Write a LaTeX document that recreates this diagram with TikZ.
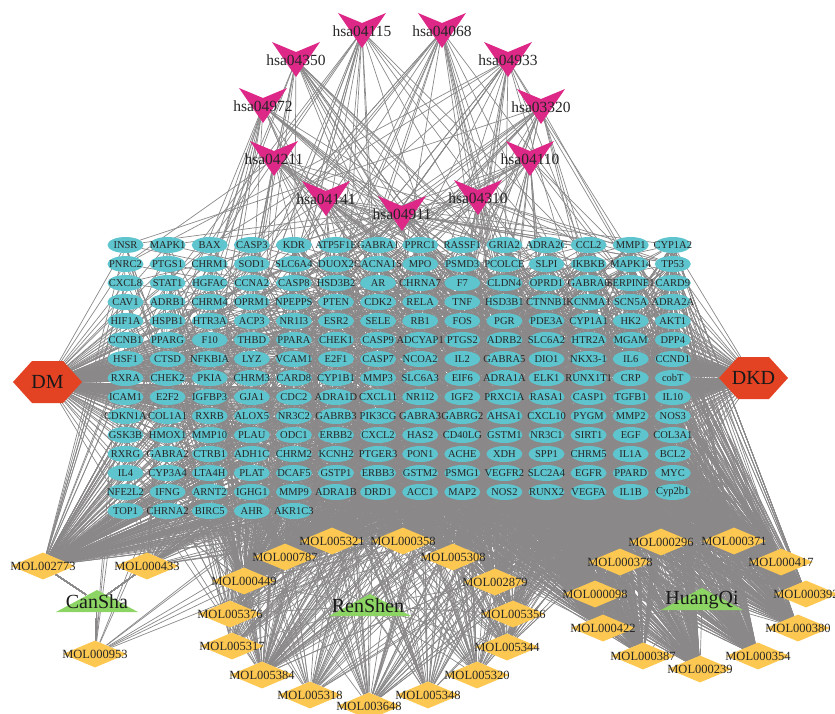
\documentclass[tikz,border=0pt]{standalone}
\usepackage{fontspec}
\setmainfont{Liberation Serif}
\usetikzlibrary{shapes.geometric}
\pgfdeclarelayer{edges}
\pgfsetlayers{edges,main}
\definecolor{genecyan}{RGB}{94,196,206}
\definecolor{hsapink}{RGB}{221,40,136}
\definecolor{dmred}{RGB}{227,66,35}
\definecolor{molyellow}{RGB}{253,200,82}
\definecolor{herbgreen}{RGB}{140,212,100}
\definecolor{edgegray}{RGB}{138,136,136}
\tikzset{
	vee/.pic = {
		\fill[hsapink] (-24,-17) -- (0,-7) -- (24,-17) -- (0,18) -- cycle;
	},
	hexa/.pic = {
		\fill[dmred] (-34.5,0) -- (-15.5,-21) -- (15.5,-21) --
		             (34.5,0) -- (15.5,21) -- (-15.5,21) -- cycle;
	},
	herb/.pic = {
		\fill[herbgreen] (-41,11) -- (41,11) -- (0,-11) -- cycle;
	},
	link/.style = {draw=edgegray, line width=0.7pt},
	gene/.style = {ellipse, fill=genecyan, minimum width=36pt, minimum height=16pt,
		inner sep=0pt, text=black!85, font=\fontsize{10.5}{10.5}\selectfont},
	mol/.style = {diamond, fill=molyellow, minimum width=64pt, minimum height=27pt,
		inner sep=0pt, text=black!85, font=\fontsize{12.5}{12.5}\selectfont},
	pathway/.style = {inner sep=0pt, text=black!85, font=\fontsize{15.5}{15.5}\selectfont},
	bigname/.style = {inner sep=0pt, text=black!90, font=\fontsize{20}{20}\selectfont}
}
% draw #2 links from node #1 to genes picked at random, columns #3..14
\def\linkgenes#1#2#3{%
	\foreach \i in {1,...,#2}{%
		\pgfmathrandominteger{\rowi}{1}{14}%
		\pgfmathrandominteger{\coli}{#3}{14}%
		\draw[link] (#1) -- (g-\rowi-\coli);
	}%
}

\begin{document}
\begin{tikzpicture}[x=1pt, y=-1pt]
	\useasboundingbox (0,0) rectangle (835,713);
	\pgfmathsetseed{4711}

	% target genes
	\foreach [count=\r] \row in {
		{INSR,MAPK1,BAX,CASP3,KDR,ATP5F1E,GABRA1,PPRC1,RASSF1,GRIA2,ADRA2C,CCL2,MMP1,CYP1A2},
		{PNRC2,PTGS1,CHRM1,SOD1,SLC6A4,DUOX2,CACNA1S,MPO,PSMD3,PCOLCE,SLPI,IKBKB,MAPK14,TP53},
		{CXCL8,STAT1,HGFAC,CCNA2,CASP8,HSD3B2,AR,CHRNA7,F7,CLDN4,OPRD1,GABRA6,SERPINE1,CARD9},
		{CAV1,ADRB1,CHRM4,OPRM1,NPEPPS,PTEN,CDK2,RELA,TNF,HSD3B1,CTNNB1,KCNMA1,SCN5A,ADRA2A},
		{HIF1A,HSPB1,HTR3A,ACP3,NR1I3,ESR2,SELE,RB1,FOS,PGR,PDE3A,CYP1A1,HK2,AKT1},
		{CCNB1,PPARG,F10,THBD,PPARA,CHEK1,CASP9,ADCYAP1,PTGS2,ADRB2,SLC6A2,HTR2A,MGAM,DPP4},
		{HSF1,CTSD,NFKBIA,LYZ,VCAM1,E2F1,CASP7,NCOA2,IL2,GABRA5,DIO1,NKX3-1,IL6,CCND1},
		{RXRA,CHEK2,PKIA,CHRM3,CARD8,CYP1B1,MMP3,SLC6A3,EIF6,ADRA1A,ELK1,RUNX1T1,CRP,cobT},
		{ICAM1,E2F2,IGFBP3,GJA1,CDC2,ADRA1D,CXCL11,NR1I2,IGF2,PRXC1A,RASA1,CASP1,TGFB1,IL10},
		{CDKN1A,COL1A1,RXRB,ALOX5,NR3C2,GABRB3,PIK3CG,GABRA3,GABRG2,AHSA1,CXCL10,PYGM,MMP2,NOS3},
		{GSK3B,HMOX1,MMP10,PLAU,ODC1,ERBB2,CXCL2,HAS2,CD40LG,GSTM1,NR3C1,SIRT1,EGF,COL3A1},
		{RXRG,GABRA2,CTRB1,ADH1C,CHRM2,KCNH2,PTGER3,PON1,ACHE,XDH,SPP1,CHRM5,IL1A,BCL2},
		{IL4,CYP3A4,LTA4H,PLAT,DCAF5,GSTP1,ERBB3,GSTM2,PSMG1,VEGFR2,SLC2A4,EGFR,PPARD,MYC},
		{NFE2L2,IFNG,ARNT2,IGHG1,MMP9,ADRA1B,DRD1,ACC1,MAP2,NOS2,RUNX2,VEGFA,IL1B,Cyp2b1},
		{TOP1,CHRNA2,BIRC5,AHR,AKR1C3}}{
		\foreach [count=\c] \g in \row
			\node[gene] (g-\r-\c) at ({125.5+42.1*(\c-1)}, {245+19*(\r-1)}) {\makebox[0pt]{\g}};
	}

	% diseases
	\pic at (47.5,382) {hexa};
	\node[bigname] (DM) at (47.5,382) {DM};
	\pic at (753.5,378) {hexa};
	\node[bigname] (DKD) at (753.5,378) {DKD};

	% KEGG pathways
	\foreach \h/\x/\y in {hsa04115/362/30, hsa04068/442/30, hsa04350/296/59, hsa04933/508/59,
		hsa04972/263/105, hsa03320/541/106, hsa04211/274/158, hsa04110/530/158,
		hsa04141/326/198, hsa04310/478/197, hsa04911/402/213}
	{
		\pic at (\x,\y) {vee};
		\node[pathway] (\h) at (\x,\y+1) {\makebox[0pt]{\h}};
	}

	% herbs
	\pic at (97,601) {herb};
	\node[bigname] (CanSha) at (97,602) {CanSha};
	\pic at (370,605) {herb};
	\node[bigname] (RenShen) at (368,606) {RenShen};
	\pic at (702,599) {herb};
	\node[bigname] (HuangQi) at (702,600) {HuangQi};

	% compounds
	\foreach \m/\x/\y in {MOL002773/43/566, MOL000433/147/566, MOL000953/95/654,
		MOL000787/285/557, MOL005321/332/541, MOL000358/403/541, MOL005308/453/557,
		MOL000449/244/581, MOL002879/495/582, MOL005376/230/614, MOL005356/513/614,
		MOL005317/232/646, MOL005344/507/647, MOL005384/262/675, MOL005320/477/675,
		MOL005318/310/695, MOL003648/369/706, MOL005348/428/695,
		MOL000296/661/542, MOL000371/734/541, MOL000378/620/562, MOL000417/781/562,
		MOL000098/595/594, MOL000392/806/594, MOL000422/603/628, MOL000380/798/628,
		MOL000387/643/656, MOL000354/758/656, MOL000239/700/669}
		\node[mol] (\m) at (\x,\y) {\makebox[0pt]{\m}};

	\begin{pgfonlayer}{edges}
		% disease -- gene
		\foreach \k in {0,...,200}{
			\pgfmathtruncatemacro\rowi{int(\k/14)+1}
			\pgfmathtruncatemacro\coli{\k-14*int(\k/14)+1}
			\draw[link] (DM) -- (g-\rowi-\coli);
			\draw[link] (DKD) -- (g-\rowi-\coli);
		}
		% pathway -- gene
		\foreach \h in {hsa04115,hsa04068,hsa04350,hsa04933,hsa04972,hsa03320,
			hsa04211,hsa04110,hsa04141,hsa04310,hsa04911}
			\linkgenes{\h}{20}{1}
		% compound -- gene
		\foreach \m/\n/\c in {MOL002773/22/1, MOL000433/5/1, MOL000953/1/1,
			MOL000787/18/1, MOL005321/12/2, MOL000358/14/3, MOL005308/14/3, MOL000449/18/1,
			MOL002879/10/4, MOL005376/4/1, MOL005356/5/5, MOL005317/3/1, MOL005344/5/5,
			MOL005384/7/1, MOL005320/4/4, MOL005318/3/2, MOL003648/4/3, MOL005348/3/4,
			MOL000296/28/5, MOL000371/24/6, MOL000378/28/5, MOL000417/22/7, MOL000098/26/5,
			MOL000392/18/8, MOL000422/24/6, MOL000380/18/8, MOL000387/20/7, MOL000354/18/8,
			MOL000239/18/7}
			\linkgenes{\m}{\n}{\c}
		% herb -- compound
		\foreach \m in {MOL002773,MOL000433,MOL000953}
			\draw[link] (CanSha) -- (\m);
		\foreach \m in {MOL000787,MOL005321,MOL000358,MOL005308,MOL000449,MOL002879,
			MOL005376,MOL005356,MOL005317,MOL005344,MOL005384,MOL005320,MOL005318,
			MOL003648,MOL005348}
			\draw[link] (RenShen) -- (\m);
		\foreach \m in {MOL000296,MOL000371,MOL000378,MOL000417,MOL000098,MOL000392,
			MOL000422,MOL000380,MOL000387,MOL000354,MOL000239}
			\draw[link] (HuangQi) -- (\m);
	\end{pgfonlayer}
\end{tikzpicture}
\end{document}
